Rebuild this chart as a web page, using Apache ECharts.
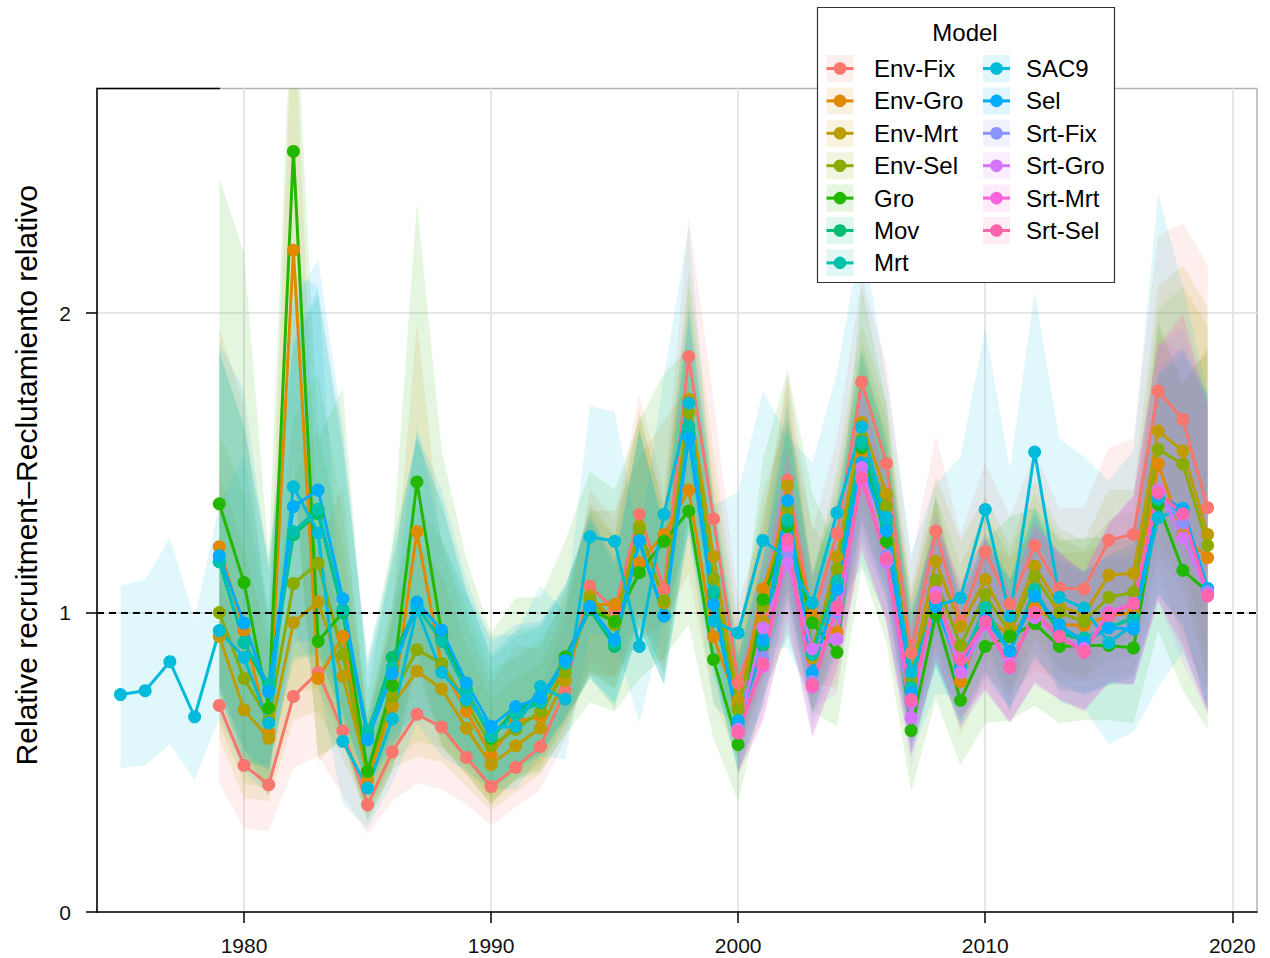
<!DOCTYPE html>
<html><head><meta charset="utf-8">
<style>html,body{margin:0;padding:0;background:#fff}#c{width:1270px;height:958px}</style>
<script src="https://cdn.jsdelivr.net/npm/echarts/dist/echarts.min.js"></script>
</head><body><div id="c"></div>
<script>
// ---------- data ----------
const years = [1979,1980,1981,1982,1983,1984,1985,1986,1987,1988,1989,1990,1991,1992,1993,1994,1995,1996,1997,1998,1999,2000,2001,2002,2003,2004,2005,2006,2007,2008,2009,2010,2011,2012,2013,2014,2015,2016,2017,2018,2019];
const yearsSAC9 = [1975,1976,1977,1978,1979,1980,1981,1982,1983,1984,1985,1986,1987,1988,1989,1990,1991,1992,1993,1994,1995,1996,1997,1998,1999,2000,2001,2002,2003,2004,2005,2006,2007,2008,2009,2010,2011,2012,2013,2014,2015,2016,2017,2018,2019];
const yearsSrt = [2000,2001,2002,2003,2004,2005,2006,2007,2008,2009,2010,2011,2012,2013,2014,2015,2016,2017,2018,2019];

const envFix   = [0.69,0.49,0.425,0.72,0.80,0.605,0.358,0.535,0.66,0.618,0.516,0.419,0.483,0.553,0.742,1.088,1.01,1.328,1.077,1.855,1.313,0.765,1.00,1.443,0.98,1.264,1.77,1.498,0.865,1.272,0.97,1.203,1.029,1.224,1.082,1.079,1.242,1.261,1.74,1.645,1.35];
const envFixLo = [0.43,0.28,0.27,0.48,0.52,0.39,0.26,0.37,0.43,0.41,0.36,0.29,0.35,0.41,0.57,0.84,0.78,1.02,0.83,1.48,1.01,0.57,0.77,1.15,0.75,1.01,1.48,1.23,0.64,1.02,0.75,0.96,0.80,0.98,0.87,0.86,0.99,1.01,1.34,1.18,0.84];
const envFixHi = [1.10,0.88,0.66,1.08,1.24,0.94,0.50,0.78,1.02,0.93,0.75,0.61,0.68,0.75,0.96,1.41,1.31,1.73,1.40,2.32,1.71,1.03,1.30,1.80,1.27,1.58,2.12,1.83,1.17,1.59,1.26,1.50,1.32,1.53,1.35,1.35,1.55,1.58,2.26,2.30,2.16];

const envGro   = [1.22,0.94,0.60,2.21,0.78,0.92,0.44,0.686,1.27,0.82,0.67,0.525,0.636,0.653,0.826,1.027,1.027,1.166,1.261,1.409,0.919,0.69,1.079,1.322,0.993,0.934,1.534,1.30,0.78,1.10,0.77,0.99,0.921,1.016,0.96,0.957,0.99,1.0,1.497,1.258,1.183];
const envGroLo = [0.76,0.52,0.39,1.47,0.50,0.59,0.31,0.47,0.82,0.55,0.46,0.36,0.45,0.48,0.64,0.79,0.79,0.90,0.97,1.13,0.71,0.51,0.83,1.06,0.76,0.75,1.28,1.07,0.58,0.88,0.59,0.79,0.72,0.81,0.77,0.77,0.79,0.80,1.15,0.90,0.74];
const envGroHi = [1.95,1.69,0.93,3.10,1.21,1.43,0.62,0.99,1.97,1.23,0.97,0.76,0.89,0.88,1.07,1.34,1.34,1.52,1.64,1.76,1.19,0.93,1.40,1.65,1.29,1.17,1.84,1.59,1.05,1.38,1.00,1.24,1.18,1.27,1.20,1.20,1.24,1.25,1.95,1.76,1.89];

const envMrt   = [0.92,0.675,0.58,0.966,1.036,0.787,0.465,0.69,0.804,0.745,0.614,0.492,0.555,0.614,0.773,1.055,0.97,1.289,1.032,1.712,1.187,0.709,0.971,1.423,0.848,1.186,1.635,1.395,0.80,1.171,0.954,1.11,0.95,1.155,1.021,0.993,1.125,1.131,1.606,1.54,1.261];
const envMrtLo = [0.58,0.38,0.37,0.64,0.67,0.51,0.33,0.48,0.52,0.50,0.42,0.34,0.40,0.46,0.60,0.81,0.75,0.99,0.79,1.37,0.91,0.53,0.75,1.14,0.65,0.95,1.36,1.14,0.59,0.94,0.73,0.89,0.74,0.92,0.82,0.79,0.90,0.91,1.24,1.10,0.79];
const envMrtHi = [1.47,1.22,0.90,1.45,1.61,1.22,0.65,1.00,1.25,1.12,0.89,0.71,0.78,0.83,1.01,1.37,1.26,1.68,1.34,2.14,1.54,0.96,1.26,1.78,1.10,1.48,1.96,1.70,1.08,1.46,1.24,1.39,1.22,1.44,1.28,1.24,1.41,1.41,2.09,2.16,2.02];

const envSel   = [1.0,0.78,0.64,1.097,1.164,0.86,0.47,0.72,0.876,0.83,0.70,0.555,0.61,0.67,0.80,1.04,0.96,1.277,1.04,1.668,1.112,0.676,1.02,1.35,0.88,1.146,1.579,1.356,0.77,1.108,0.89,1.06,0.93,1.121,1.0,0.97,1.051,1.068,1.545,1.495,1.224];
const envSelLo = [0.63,0.43,0.41,0.73,0.75,0.56,0.34,0.50,0.57,0.55,0.48,0.38,0.44,0.50,0.62,0.80,0.74,0.98,0.80,1.33,0.86,0.50,0.79,1.08,0.68,0.92,1.32,1.11,0.57,0.89,0.69,0.85,0.73,0.90,0.80,0.78,0.84,0.85,1.19,1.07,0.77];
const envSelHi = [1.60,1.40,0.99,1.65,1.80,1.33,0.66,1.04,1.36,1.25,1.02,0.81,0.85,0.91,1.04,1.35,1.25,1.66,1.35,2.09,1.45,0.91,1.33,1.69,1.14,1.43,1.90,1.65,1.04,1.39,1.16,1.33,1.19,1.40,1.25,1.21,1.31,1.34,2.01,2.09,1.96];

const gro   = [1.363,1.10,0.681,2.54,0.904,1.0,0.47,0.756,1.436,0.93,0.74,0.58,0.68,0.70,0.852,1.01,0.97,1.133,1.238,1.339,0.843,0.559,1.043,1.289,0.966,0.867,1.55,1.238,0.606,0.993,0.707,0.887,0.92,0.963,0.887,0.89,0.89,0.882,1.361,1.141,1.07];
const groLo = [0.76,0.55,0.39,1.49,0.52,0.57,0.30,0.47,0.87,0.56,0.46,0.36,0.44,0.47,0.59,0.70,0.67,0.78,0.85,0.96,0.58,0.37,0.72,0.92,0.67,0.62,1.15,0.90,0.40,0.71,0.49,0.63,0.64,0.69,0.63,0.64,0.64,0.63,0.94,0.74,0.61];
const groHi = [2.45,2.20,1.19,3.20,1.58,1.75,0.73,1.21,2.37,1.54,1.18,0.93,1.05,1.05,1.24,1.47,1.41,1.64,1.80,1.88,1.22,0.84,1.51,1.81,1.40,1.21,2.09,1.70,0.91,1.39,1.03,1.24,1.32,1.35,1.24,1.25,1.25,1.24,1.97,1.77,1.87];

const mov   = [1.17,0.90,0.74,1.26,1.33,1.0,0.59,0.85,1.02,0.91,0.74,0.59,0.67,0.71,0.84,1.01,0.887,1.24,0.99,1.60,1.06,0.62,0.89,1.30,0.87,1.10,1.56,1.28,0.74,1.03,0.82,1.0,0.87,1.07,0.93,0.91,0.95,0.98,1.38,1.33,1.07];
const movLo = [0.73,0.50,0.48,0.84,0.86,0.65,0.42,0.59,0.66,0.61,0.51,0.41,0.48,0.53,0.65,0.78,0.68,0.95,0.76,1.28,0.82,0.46,0.69,1.04,0.67,0.88,1.30,1.05,0.55,0.82,0.63,0.80,0.68,0.86,0.74,0.73,0.76,0.78,1.06,0.95,0.67];
const movHi = [1.87,1.62,1.15,1.89,2.06,1.55,0.83,1.23,1.58,1.37,1.07,0.86,0.94,0.96,1.09,1.31,1.15,1.61,1.29,2.00,1.38,0.84,1.16,1.63,1.13,1.38,1.87,1.56,1.00,1.29,1.07,1.25,1.11,1.34,1.16,1.14,1.19,1.23,1.79,1.86,1.71];

const mrt   = [1.17,0.90,0.76,1.27,1.345,1.01,0.605,0.816,1.02,0.904,0.737,0.586,0.66,0.70,0.83,1.015,0.90,1.24,0.99,1.62,1.071,0.64,0.90,1.31,0.86,1.105,1.57,1.30,0.75,1.04,0.83,1.017,0.871,1.077,0.94,0.915,0.95,0.982,1.378,1.34,1.08];
const mrtLo = [0.73,0.50,0.49,0.85,0.87,0.65,0.43,0.56,0.66,0.60,0.51,0.40,0.47,0.52,0.64,0.78,0.69,0.95,0.76,1.30,0.82,0.47,0.69,1.05,0.66,0.88,1.31,1.07,0.56,0.83,0.64,0.81,0.68,0.86,0.75,0.73,0.76,0.79,1.06,0.96,0.68];
const mrtHi = [1.87,1.62,1.18,1.91,2.08,1.57,0.85,1.18,1.58,1.36,1.07,0.85,0.92,0.95,1.08,1.32,1.17,1.61,1.29,2.03,1.39,0.86,1.17,1.64,1.12,1.38,1.88,1.59,1.01,1.30,1.08,1.27,1.11,1.35,1.18,1.14,1.19,1.23,1.79,1.88,1.73];

const sac9   = [0.726,0.739,0.836,0.652,0.94,0.85,0.631,1.42,1.266,0.57,0.414,0.645,1.01,0.80,0.709,0.615,0.62,0.753,0.711,1.253,1.238,0.887,1.328,1.699,0.971,0.932,1.241,1.181,1.032,1.333,1.62,1.318,0.80,1.021,1.049,1.344,0.988,1.536,1.051,1.015,0.899,0.96,1.317,1.347,1.08];
const sac9Lo = [0.48,0.49,0.56,0.44,0.65,0.47,0.39,0.95,0.77,0.36,0.28,0.43,0.63,0.52,0.47,0.41,0.41,0.52,0.51,0.93,0.92,0.63,0.98,1.26,0.69,0.62,0.89,0.88,0.71,0.99,1.16,0.98,0.53,0.73,0.72,0.93,0.66,1.14,0.70,0.68,0.56,0.60,0.75,0.87,0.68];
const sac9Hi = [1.09,1.11,1.25,0.98,1.36,1.53,1.01,2.13,2.09,0.91,0.62,0.97,1.62,1.24,1.06,0.92,0.93,1.09,1.00,1.69,1.67,1.24,1.79,2.29,1.36,1.40,1.74,1.59,1.50,1.80,2.27,1.78,1.20,1.43,1.52,1.95,1.48,2.07,1.58,1.52,1.44,1.54,2.40,2.09,1.73];

const sel   = [1.19,0.965,0.735,1.354,1.409,1.046,0.575,0.796,1.035,0.941,0.765,0.62,0.686,0.715,0.84,1.02,0.91,1.238,0.988,1.584,1.027,0.636,0.91,1.373,0.80,1.077,1.50,1.272,0.732,1.02,0.81,0.98,0.87,1.055,0.96,0.90,0.949,0.945,1.39,1.347,1.08];
const selLo = [0.74,0.54,0.47,0.90,0.91,0.68,0.41,0.55,0.67,0.63,0.53,0.43,0.49,0.53,0.65,0.79,0.70,0.95,0.76,1.27,0.79,0.47,0.70,1.10,0.62,0.86,1.25,1.04,0.54,0.82,0.62,0.78,0.68,0.84,0.77,0.72,0.76,0.76,1.07,0.96,0.68];
const selHi = [1.90,1.74,1.14,2.03,2.18,1.62,0.81,1.15,1.60,1.41,1.11,0.90,0.96,0.97,1.09,1.33,1.18,1.61,1.28,1.98,1.34,0.86,1.18,1.72,1.04,1.35,1.80,1.55,0.99,1.28,1.05,1.23,1.11,1.32,1.20,1.13,1.19,1.18,1.81,1.89,1.73];

const srtFix   = [0.61,0.85,1.20,0.77,1.0,1.46,1.19,0.70,1.06,0.80,0.96,0.82,0.99,0.92,0.87,1.0,1.03,1.40,1.30,1.07];
const srtFixLo = [0.47,0.65,0.96,0.59,0.80,1.22,0.975,0.52,0.85,0.615,0.74,0.63,0.76,0.71,0.67,0.77,0.76,1.04,0.87,0.67];
const srtFixHi = [0.79,1.105,1.50,1.00,1.25,1.75,1.45,0.945,1.325,1.04,1.25,1.07,1.29,1.20,1.13,1.30,1.39,1.89,1.95,1.71];

const srtGro   = [0.61,0.949,1.166,0.879,0.912,1.484,1.167,0.648,1.068,0.80,0.96,0.83,0.983,0.921,0.88,1.0,1.03,1.41,1.25,1.06];
const srtGroLo = [0.47,0.73,0.93,0.68,0.73,1.24,0.96,0.48,0.85,0.615,0.74,0.64,0.76,0.71,0.68,0.77,0.76,1.04,0.83,0.66];
const srtGroHi = [0.79,1.23,1.46,1.14,1.14,1.78,1.42,0.875,1.335,1.04,1.25,1.08,1.28,1.20,1.14,1.30,1.39,1.90,1.875,1.70];

const srtMrt   = [0.598,0.82,1.222,0.752,1.01,1.443,1.179,0.703,1.05,0.843,0.96,0.816,0.999,0.921,0.867,1.0,1.032,1.40,1.328,1.06];
const srtMrtLo = [0.46,0.63,0.98,0.58,0.81,1.20,0.97,0.52,0.84,0.65,0.74,0.63,0.77,0.71,0.67,0.77,0.76,1.04,0.885,0.66];
const srtMrtHi = [0.78,1.07,1.53,0.98,1.26,1.73,1.44,0.95,1.31,1.10,1.25,1.06,1.30,1.20,1.13,1.30,1.39,1.89,1.99,1.70];

const srtSel   = [0.60,0.83,1.244,0.76,1.02,1.45,1.18,0.71,1.05,0.843,0.97,0.82,1.0,0.92,0.87,0.99,1.03,1.40,1.33,1.055];
const srtSelLo = [0.46,0.64,1.00,0.585,0.82,1.21,0.97,0.53,0.84,0.65,0.75,0.63,0.77,0.71,0.67,0.76,0.76,1.04,0.89,0.66];
const srtSelHi = [0.78,1.08,1.555,0.99,1.275,1.74,1.44,0.96,1.31,1.10,1.26,1.07,1.30,1.20,1.13,1.29,1.39,1.89,2.00,1.69];

const xTickLabels = [1980,1990,2000,2010,2020];
const yTickLabels = [0,1,2];
const refLine = 1;

// ---------- build chart ----------
const FONT = "'Liberation Sans', Arial, Helvetica, sans-serif";
function rgba(hex, a){ const n = parseInt(hex.slice(1),16); return 'rgba('+((n>>16)&255)+','+((n>>8)&255)+','+(n&255)+','+a+')'; }

const models = [
  {name:'Env-Fix', color:'#F8766D', x:years,     v:envFix, lo:envFixLo, hi:envFixHi},
  {name:'Env-Gro', color:'#E18A00', x:years,     v:envGro, lo:envGroLo, hi:envGroHi},
  {name:'Env-Mrt', color:'#BE9C00', x:years,     v:envMrt, lo:envMrtLo, hi:envMrtHi},
  {name:'Env-Sel', color:'#8CAB00', x:years,     v:envSel, lo:envSelLo, hi:envSelHi},
  {name:'Gro',     color:'#24B700', x:years,     v:gro,    lo:groLo,    hi:groHi},
  {name:'Mov',     color:'#00BE70', x:years,     v:mov,    lo:movLo,    hi:movHi},
  {name:'Mrt',     color:'#00C1AB', x:years,     v:mrt,    lo:mrtLo,    hi:mrtHi},
  {name:'SAC9',    color:'#00BBDA', x:yearsSAC9, v:sac9,   lo:sac9Lo,   hi:sac9Hi},
  {name:'Sel',     color:'#00ACFC', x:years,     v:sel,    lo:selLo,    hi:selHi},
  {name:'Srt-Fix', color:'#8B93FF', x:yearsSrt,  v:srtFix, lo:srtFixLo, hi:srtFixHi},
  {name:'Srt-Gro', color:'#D575FE', x:yearsSrt,  v:srtGro, lo:srtGroLo, hi:srtGroHi},
  {name:'Srt-Mrt', color:'#F962DD', x:yearsSrt,  v:srtMrt, lo:srtMrtLo, hi:srtMrtHi},
  {name:'Srt-Sel', color:'#FF65AC', x:yearsSrt,  v:srtSel, lo:srtSelLo, hi:srtSelHi}
];
const BAND_ALPHA = 0.12;

const series = [];
models.forEach(m => {
  series.push({
    type:'custom', name:m.name+' band', silent:true, clip:true, z:1, animation:false,
    data:[[m.x[0], m.v[0]]], encode:{x:0, y:1},
    renderItem:function(params, api){
      if (params.dataIndex !== 0) return null;
      const pts = [];
      for (let i=0;i<m.x.length;i++) pts.push(api.coord([m.x[i], m.hi[i]]));
      for (let i=m.x.length-1;i>=0;i--) pts.push(api.coord([m.x[i], m.lo[i]]));
      return {type:'polygon', shape:{points:pts}, style:{fill:rgba(m.color, BAND_ALPHA), stroke:null}};
    }
  });
});
models.forEach(m => {
  series.push({
    type:'line', name:m.name, silent:true, z:3, animation:false,
    showSymbol:false, symbol:'none',
    data:m.x.map((yr,i)=>[yr, m.v[i]]),
    lineStyle:{color:m.color, width:3}, itemStyle:{color:m.color}
  });
});
models.forEach((m, k) => {
  const s = {
    type:'scatter', name:m.name+' pts', silent:true, z:4, animation:false,
    symbol:'circle', symbolSize:13,
    data:m.x.map((yr,i)=>[yr, m.v[i]]),
    itemStyle:{color:m.color, opacity:1}
  };
  if (k === models.length-1) {
    s.markLine = {
      silent:true, animation:false, symbol:['none','none'], label:{show:false},
      lineStyle:{color:'#000', width:2, type:[7,5]},
      emphasis:{disabled:true},
      data:[{yAxis:refLine}]
    };
  }
  series.push(s);
});

// legend drawn as graphics (ggplot style keys)
const legendEls = [];
legendEls.push({type:'rect', shape:{x:817.5, y:7.5, width:297, height:275},
  style:{fill:'#fff', stroke:'#333', lineWidth:1.2}, z:100});
legendEls.push({type:'text', z:101, style:{text:'Model', x:965, y:32, fill:'#000',
  font:'24px '+FONT, textAlign:'center', textVerticalAlign:'middle', verticalAlign:'middle'}});
models.forEach((m, k) => {
  const col = k < 7 ? 0 : 1, row = k < 7 ? k : k-7;
  const cy = 68.5 + 32.4*row;
  const sx = col ? 983 : 826.5;
  const tx = col ? 1026 : 874;
  legendEls.push({type:'rect', z:101, shape:{x:sx, y:cy-13.5, width:27, height:27}, style:{fill:rgba(m.color,0.12)}});
  legendEls.push({type:'line', z:102, shape:{x1:sx, y1:cy, x2:sx+27, y2:cy}, style:{stroke:m.color, lineWidth:3}});
  legendEls.push({type:'circle', z:103, shape:{cx:sx+13.5, cy:cy, r:6.3}, style:{fill:m.color}});
  legendEls.push({type:'text', z:103, style:{text:m.name, x:tx, y:cy, fill:'#000',
    font:'24px '+FONT, textAlign:'left', textVerticalAlign:'middle', verticalAlign:'middle'}});
});
// top-left black border fragment
legendEls.push({type:'line', z:50, shape:{x1:97, y1:88.5, x2:220, y2:88.5}, style:{stroke:'#000', lineWidth:1.5}});

const option = {
  backgroundColor:'#fff',
  animation:false,
  textStyle:{fontFamily:FONT},
  grid:{left:97, right:13, top:88.5, bottom:46, containLabel:false, outerBoundsMode:'none',
        show:true, borderColor:'#b3b3b3', borderWidth:1.5, backgroundColor:'transparent'},
  xAxis:{
    type:'value', min:1974.05, max:2021, splitNumber:9,
    axisLine:{show:true, onZero:false, lineStyle:{color:'#000', width:1.5}},
    axisTick:{show:true, customValues:xTickLabels, length:11, lineStyle:{color:'#000', width:1.5}},
    axisLabel:{customValues:xTickLabels, fontSize:21, color:'#111', margin:23, fontFamily:FONT,
               formatter:function(v){ return String(Math.round(v)); }},
    splitLine:{show:true, lineStyle:{color:'#e6e6e6', width:2}}
  },
  yAxis:{
    type:'value', min:0, max:2.75, interval:0.5,
    name:'Relative recruitment\u2013Reclutamiento relativo',
    nameLocation:'middle', nameGap:56, nameRotate:90,
    nameTextStyle:{fontSize:30, color:'#000', fontFamily:FONT, padding:[0,0,0,50]},
    axisLine:{show:true, onZero:false, lineStyle:{color:'#000', width:1.5}},
    axisTick:{show:true, customValues:yTickLabels, length:11, lineStyle:{color:'#000', width:1.5}},
    axisLabel:{customValues:yTickLabels, fontSize:21, color:'#111', margin:26, fontFamily:FONT,
               formatter:function(v){ return String(v); }},
    splitLine:{show:true, lineStyle:{color:'#e6e6e6', width:2}}
  },
  graphic:{elements:legendEls},
  series:series
};
const chart = echarts.init(document.getElementById('c'), null, {renderer:'svg', width:1270, height:958});
chart.setOption(option);
</script>
</body></html>
